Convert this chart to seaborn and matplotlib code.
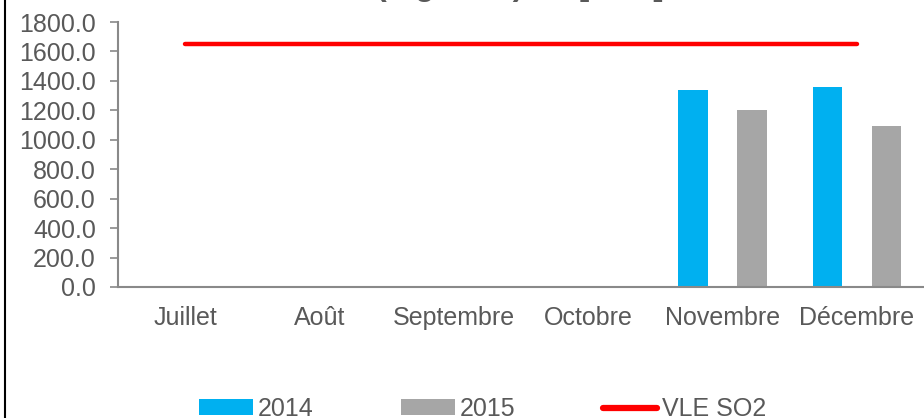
import numpy as np
import pandas as pd
import matplotlib
matplotlib.use("Agg")
import matplotlib.pyplot as plt
import seaborn as sns
from matplotlib.patches import Patch
from matplotlib.lines import Line2D

# data
mois = ["Juillet", "Août", "Septembre", "Octobre", "Novembre", "Décembre"]
so2_2014 = [np.nan, np.nan, np.nan, np.nan, 1340, 1360]
so2_2015 = [np.nan, np.nan, np.nan, np.nan, 1205, 1095]
vle_so2 = [1650, 1650, 1650, 1650, 1650, 1650]
annees = ["2014", "2015"]
couleurs = {"2014": "#00B0F0", "2015": "#A6A6A6"}

df = pd.DataFrame({
    "mois": mois * 2,
    "annee": ["2014"] * len(mois) + ["2015"] * len(mois),
    "so2": so2_2014 + so2_2015,
})

sns.set_style("white")
plt.rcParams["font.family"] = ["Liberation Sans", "DejaVu Sans"]
gris = "#595959"

fig = plt.figure(figsize=(9.24, 4.18), dpi=100)
ax = fig.add_axes([118 / 924, 131 / 418, 806 / 924, 265 / 418])

sns.barplot(data=df, x="mois", y="so2", hue="annee", order=mois,
            hue_order=annees, palette=couleurs, saturation=1, width=0.88,
            gap=0.5, errorbar=None, legend=False, ax=ax, linewidth=0)
sns.lineplot(x=np.arange(len(mois)), y=vle_so2, color="#FF0000",
             linewidth=3.2, ax=ax, solid_capstyle="round")

ax.set_xlim(-0.5, len(mois) - 0.5)
ax.set_ylim(0, 1800)
ax.set_yticks(np.arange(0, 1801, 200))
ax.set_yticklabels([f"{v:.1f}" for v in np.arange(0, 1801, 200)])
ax.set_xlabel("")
ax.set_ylabel("")

# category labels centred, tick marks at boundaries
ax.set_xticks(np.arange(len(mois)))
ax.set_xticklabels(mois)
ax.set_xticks(np.arange(len(mois)) - 0.5, minor=True)
ax.tick_params(axis="x", which="major", length=0, pad=14, labelsize=18, labelcolor=gris)
ax.tick_params(axis="x", which="minor", length=5, width=1.2, color="#898989", direction="out")
ax.tick_params(axis="y", length=6, width=1.2, color="#898989", direction="out",
               left=True, pad=10, labelsize=18, labelcolor=gris)

sns.despine(ax=ax, top=True, right=True)
for s in ["left", "bottom"]:
    ax.spines[s].set_color("#898989")
    ax.spines[s].set_linewidth(1.5)

# title, mostly cut off at the top as in the reference
fig.text(0.563, 1 + 5.5 / 418, "(mg/Nm3) en [SO2]", ha="center", va="baseline",
         fontsize=23, fontweight="bold", color=gris)

# chart-area border on the left
fig.add_artist(Line2D([5 / 924, 5 / 924], [0, 1], color="black", linewidth=1.5))

handles = [
    Patch(facecolor=couleurs["2014"], edgecolor="none"),
    Patch(facecolor=couleurs["2015"], edgecolor="none"),
    Line2D([0], [0], color="#FF0000", linewidth=4.5, solid_capstyle="round"),
]
fig.legend(handles, ["2014", "2015", "VLE SO2"], loc="center",
           bbox_to_anchor=(0.522, 9 / 418), ncol=3, frameon=False,
           fontsize=18, labelcolor=gris, handlelength=2.15, handleheight=0.6,
           handletextpad=0.2, columnspacing=3.5)

fig.savefig("out.png", dpi=100)
